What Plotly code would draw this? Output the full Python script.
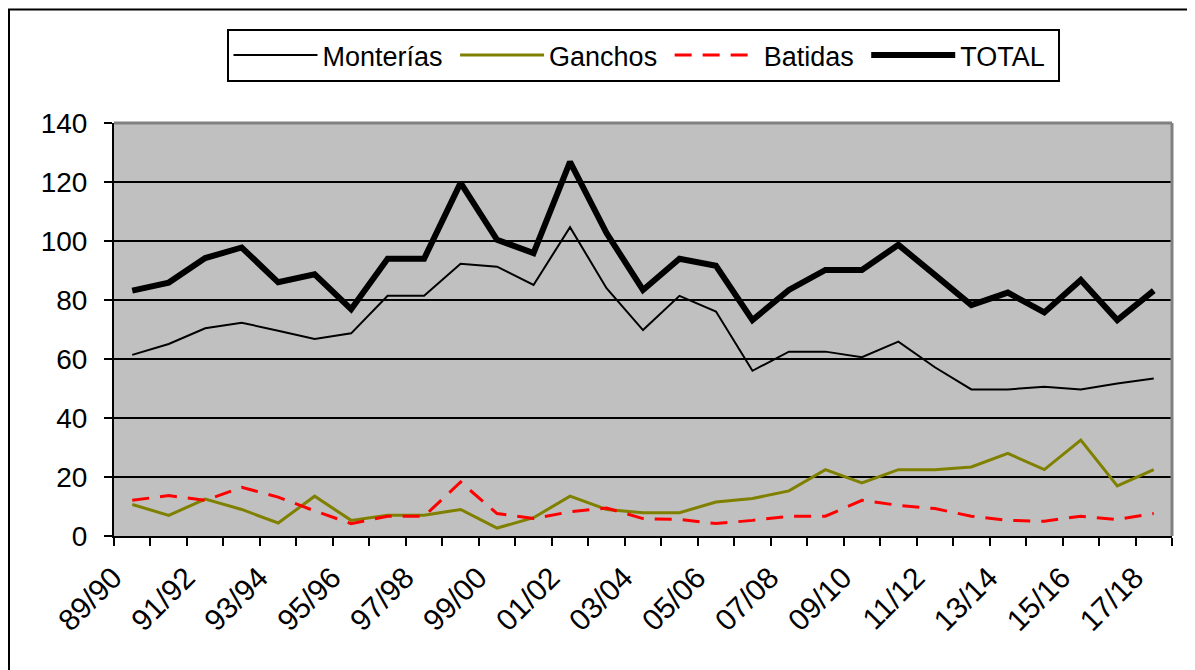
import plotly.graph_objects as go

seasons = ["89/90", "90/91", "91/92", "92/93", "93/94", "94/95", "95/96", "96/97",
           "97/98", "98/99", "99/00", "00/01", "01/02", "02/03", "03/04", "04/05",
           "05/06", "06/07", "07/08", "08/09", "09/10", "10/11", "11/12", "12/13",
           "13/14", "14/15", "15/16", "16/17", "17/18"]

monterias = [61.4, 65.1, 70.4, 72.3, 69.6, 66.8, 68.7, 81.4, 81.4, 92.3,
             91.3, 85.1, 104.7, 84.0, 69.8, 81.4, 76.1, 56.0, 62.5, 62.5,
             60.6, 65.9, 57.2, 49.7, 49.7, 50.6, 49.7, 51.7, 53.4]
ganchos = [10.7, 7.0, 12.5, 9.0, 4.4, 13.5, 5.3, 7.0, 7.0, 9.0,
           2.7, 6.2, 13.5, 9.0, 7.9, 7.9, 11.5, 12.7, 15.3, 22.5,
           18.0, 22.5, 22.5, 23.4, 28.0, 22.5, 32.5, 17.0, 22.5]
batidas = [12.1, 13.7, 12.1, 16.5, 13.2, 8.5, 4.2, 6.7, 6.7, 18.3,
           7.6, 5.9, 8.2, 9.5, 5.9, 5.6, 4.2, 5.3, 6.7, 6.7,
           12.1, 10.4, 9.3, 6.7, 5.3, 5.0, 6.7, 5.6, 7.6]
total = [83.2, 85.9, 94.2, 97.8, 86.0, 88.7, 76.9, 94.0, 94.0, 119.7,
         100.4, 95.9, 126.8, 102.7, 83.4, 94.0, 91.6, 73.2, 83.4, 90.2,
         90.2, 98.7, 88.5, 78.3, 82.5, 75.8, 86.8, 73.2, 83.2]

idx = list(range(len(seasons)))
label_idx = idx[::2]
label_txt = seasons[::2]

FONT = "Liberation Sans, Arial, sans-serif"
NB = "\u00a0"

# The page body has an 8px margin, so figure coords = page coords - 8.
L, R, T, B = 106, 31, 115, 142
PW = 1195 - L - R   # 1058
PH = 670 - T - B    # 413

fig = go.Figure()
fig.add_trace(go.Scatter(x=idx, y=monterias, name="Monterías" + NB, mode="lines",
                         line=dict(color="black", width=2)))
fig.add_trace(go.Scatter(x=idx, y=ganchos, name="Ganchos" + NB, mode="lines",
                         line=dict(color="#808000", width=3)))
fig.add_trace(go.Scatter(x=idx, y=batidas, name="Batidas" + NB, mode="lines",
                         line=dict(color="#FF0000", width=3, dash="17px,11px")))
fig.add_trace(go.Scatter(x=idx, y=total, name="TOTAL" + NB, mode="lines",
                         line=dict(color="black", width=6)))

fig.update_layout(
    width=1195, height=670,
    margin=dict(l=L, r=R, t=T, b=B, autoexpand=False),
    paper_bgcolor="white",
    plot_bgcolor="#C0C0C0",
    font=dict(family=FONT, size=27, color="black"),
    showlegend=True,
    legend=dict(orientation="h", x=0.5, xanchor="center",
                y=(PH + T - 21) / PH, yanchor="top",
                bordercolor="black", borderwidth=2, bgcolor="white",
                font=dict(family=FONT, size=27), itemwidth=84,
                tracegroupgap=0, traceorder="normal"),
    xaxis=dict(range=[-0.5, 28.5], tickmode="array", tickvals=label_idx,
               ticktext=label_txt, tickangle=-45, ticks="", showgrid=False,
               zeroline=False, showline=True, linecolor="black", linewidth=2,
               automargin=False, ticklabelstandoff=10, ticklabelshift=-19,
               tickfont=dict(family=FONT, size=30),
               minor=dict(ticks="outside", tick0=-0.5, dtick=1, ticklen=8,
                          tickwidth=2, tickcolor="black", showgrid=False)),
    yaxis=dict(range=[0, 140], dtick=20, ticks="outside", ticklen=8, tickwidth=2,
               tickcolor="black", showgrid=True, gridcolor="black", gridwidth=2,
               zeroline=False, showline=True, linecolor="black", linewidth=2,
               automargin=False, ticklabelstandoff=11,
               tickfont=dict(family=FONT, size=28)),
    shapes=[
        dict(type="line", xref="paper", yref="paper", x0=0, x1=1, y0=1, y1=1,
             line=dict(color="#808080", width=3), layer="above"),
        dict(type="line", xref="paper", yref="paper", x0=1, x1=1, y0=0, y1=1,
             line=dict(color="#808080", width=3), layer="above"),
        dict(type="rect", xref="paper", yref="paper",
             x0=-(L - 1) / PW, x1=1.1, y0=-0.4, y1=(PH + T - 1.5) / PH,
             line=dict(color="black", width=2), layer="above"),
    ],
)

fig.write_html("out.html")
